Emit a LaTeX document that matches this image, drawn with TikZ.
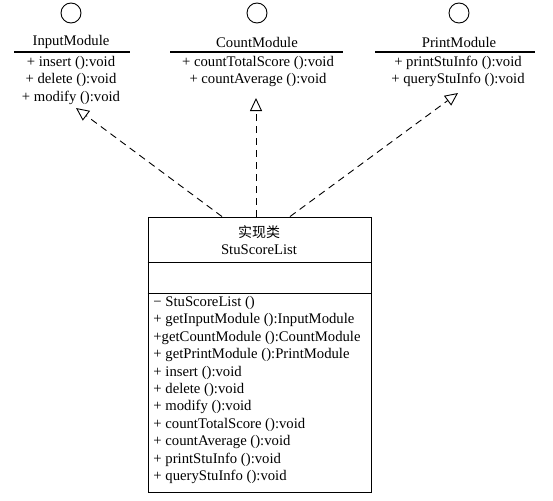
\documentclass[tikz,border=0pt]{standalone}
\usepackage{fontspec}
\setmainfont{Liberation Serif}
\newfontfamily\cjk{Noto Sans CJK SC}
\usetikzlibrary{arrows.meta,positioning}

\begin{document}
\begin{tikzpicture}[x=1pt,y=-1pt,line width=0.9pt,
    font=\fontsize{14.7}{17.4}\selectfont,
    txt/.style={inner sep=0pt},
    op/.style={inner sep=0pt,anchor=west},
    realize/.style={dash pattern=on 7pt off 5pt,
        -{Triangle[open,length=13pt,width=12pt,line width=0.9pt]}}]
    \useasboundingbox (0,0) rectangle (553,500);
    \def\rowH{17.4}
    % interfaces: lollipop, name, separator
    \foreach \name/\cx/\wl/\wr in {InputModule/71/57/59,CountModule/257/87/86,PrintModule/459/84/76}{
        \draw (\cx,13) circle (10);
        \node[txt] (\name) at (\cx,42) {\name};
        \draw[line width=1.4pt] (\cx-\wl,52) -- (\cx+\wr,52);
    }
    \foreach \op [count=\k] in {insert,delete,modify}
    \node[txt] (in\k) at (71,63+\rowH*\k-\rowH) {+ \op\ ():void};
    \foreach \op [count=\k] in {countTotalScore,countAverage}
    \node[txt] (cnt\k) at (258,63+\rowH*\k-\rowH) {+ \op\ ():void};
    \foreach \op [count=\k] in {printStuInfo,queryStuInfo}
    \node[txt] (pr\k) at (458,63+\rowH*\k-\rowH) {+ \op\ ():void};
    % implementing class
    \node[draw,minimum width=223pt,minimum height=275pt,inner sep=0pt] (cls) at (259.5,354.5) {};
    \draw (cls.west |- 0,262) -- (cls.east |- 0,262);
    \draw (cls.west |- 0,293) -- (cls.east |- 0,293);
    \node[txt] (cn) at (259,232) {\cjk\fontsize{14}{16}\selectfont 实现类};
    \node[txt] (cname) at (259,250) {StuScoreList};
    \foreach \m [count=\k from 0] in {{− StuScoreList ()},
        {+ getInputModule ():InputModule},{+getCountModule ():CountModule},
        {+ getPrintModule ():PrintModule},{+ insert ():void},{+ delete ():void},
        {+ modify ():void},{+ countTotalScore ():void},{+ countAverage ():void},
        {+ printStuInfo ():void},{+ queryStuInfo ():void}}
    \node[op] (m\k) at (153,303+\rowH*\k) {\m};
    % realization arrows
    \coordinate (tipI) at (76,108);
    \coordinate (tipC) at (256,98);
    \coordinate (tipP) at (458,93);
    \draw[realize] ([xshift=-37.5pt]cls.north) -- (tipI);
    \draw[realize] ([xshift=-3.5pt]cls.north) -- (tipC);
    \draw[realize] ([xshift=30.5pt]cls.north) -- (tipP);
\end{tikzpicture}
\end{document}
